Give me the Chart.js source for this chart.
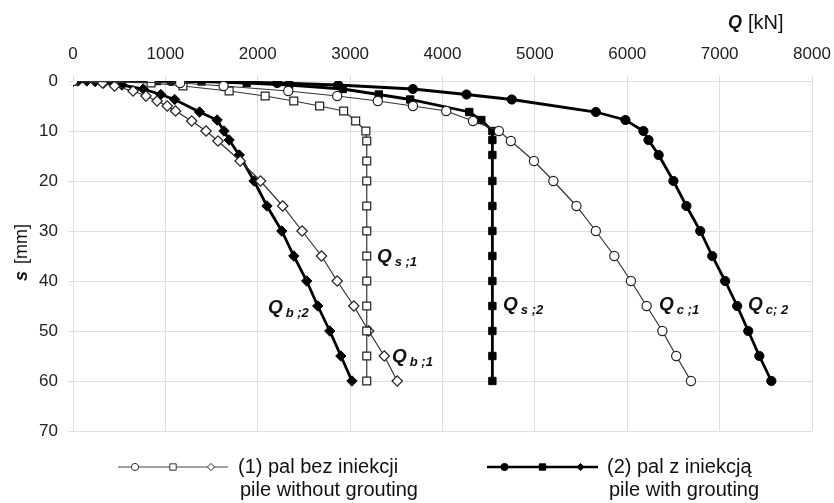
<!DOCTYPE html>
<html>
<head>
<meta charset="utf-8">
<script src="https://cdn.jsdelivr.net/npm/chart.js@4.4.1/dist/chart.umd.min.js"></script>
<style>
  html, body { margin: 0; padding: 0; background: #fff; }
  #wrap { width: 834px; height: 503px; position: relative; }
</style>
</head>
<body>
<div id="wrap"><canvas id="c" width="834" height="503"></canvas></div>
<script>
// ---- data ----
// pile (1) without grouting
const s1  = [0, 0.4, 1.0, 2, 3, 4, 5, 6, 8, 10, 12, 16, 20, 25, 30, 35, 40, 45, 50, 55, 60];
const Qc1 = [0, 1160, 1630, 2330, 2860, 3300, 3680, 4040, 4330, 4610, 4740, 4990, 5200, 5450, 5660, 5860, 6040, 6210, 6380, 6530, 6690];
const Qs1 = [0, 845, 1190, 1690, 2080, 2390, 2670, 2930, 3060, 3170, 3180, 3180, 3180, 3180, 3180, 3180, 3180, 3180, 3180, 3180, 3180];
const Qb1 = [0, 320, 450, 650, 790, 910, 1020, 1110, 1285, 1440, 1570, 1810, 2030, 2270, 2480, 2690, 2860, 3040, 3200, 3370, 3510];
// pile (2) with grouting
const s2  = [0, 0, 0, 0.1, 0.4, 0.8, 1.6, 2.7, 3.7, 6.2, 7.8, 10, 11.8, 14.8, 20, 25, 30, 35, 40, 45, 50, 55, 60];
const Qc2 = [0, 425, 1060, 1630, 2210, 2870, 3680, 4260, 4750, 5660, 5980, 6175, 6230, 6340, 6500, 6640, 6790, 6920, 7060, 7190, 7310, 7430, 7560];
const Qs2 = [0, 370, 910, 1390, 1880, 2340, 2920, 3310, 3650, 4290, 4420, 4540, 4540, 4540, 4540, 4540, 4540, 4540, 4540, 4540, 4540, 4540, 4540];
const Qb2 = [0, 55, 150, 240, 330, 530, 760, 950, 1100, 1370, 1560, 1635, 1690, 1800, 1960, 2100, 2260, 2390, 2530, 2650, 2780, 2900, 3020];

const xTicks = [0, 1000, 2000, 3000, 4000, 5000, 6000, 7000, 8000];
const yTicks = [0, 10, 20, 30, 40, 50, 60, 70];

// curve labels: main letter, subscript, anchor (Q, s)
const curveLabelSub = ['s ;1', 'b ;2', 'b ;1', 's ;2', 'c ;1', 'c; 2'];
const curveLabelQ   = [3290, 2110, 3453, 4655, 6344, 7308];
const curveLabelS   = [35.2, 45.4, 55.2, 44.8, 44.8, 44.8];

const legendTexts = [
  ['(1) pal bez iniekcji', 'pile without grouting'],
  ['(2) pal z iniekcją', 'pile with grouting']
];

// ---- helpers ----
const pts = (q, s) => q.map((v, i) => ({ x: v, y: s[i] }));
const FONT = "'Liberation Sans', Arial, sans-serif";
const GRID = '#dedede';

function openSet(label, q, s, style, r) {
  return {
    label, data: pts(q, s), showLine: true, tension: 0,
    borderColor: '#333', borderWidth: 1.2,
    pointStyle: style, pointRadius: r, pointHoverRadius: r,
    pointBackgroundColor: '#fff', pointBorderColor: '#222', pointBorderWidth: 1.2
  };
}
function filledSet(label, q, s, style, r) {
  return {
    label, data: pts(q, s), showLine: true, tension: 0,
    borderColor: '#000', borderWidth: 2.8,
    pointStyle: style, pointRadius: r, pointHoverRadius: r,
    pointBackgroundColor: '#000', pointBorderColor: '#000', pointBorderWidth: 1
  };
}

const overlay = {
  id: 'overlay',
  afterDraw(chart) {
    const ctx = chart.ctx;
    const xs = chart.scales.x, ys = chart.scales.y;
    ctx.save();
    ctx.fillStyle = '#111';
    ctx.textBaseline = 'middle';

    // curve labels
    for (let i = 0; i < curveLabelSub.length; i++) {
      const px = xs.getPixelForValue(curveLabelQ[i]);
      const py = ys.getPixelForValue(curveLabelS[i]);
      ctx.textAlign = 'left';
      ctx.font = "italic bold 19px " + FONT;
      ctx.fillText('Q', px, py);
      const w = ctx.measureText('Q').width;
      ctx.font = "italic bold 13px " + FONT;
      ctx.fillText(curveLabelSub[i], px + w + 3, py + 5);
    }

    // axis title Q [kN]
    ctx.textAlign = 'left';
    ctx.font = "italic bold 18px " + FONT;
    ctx.fillText('Q', 728, 23);
    ctx.font = "20px " + FONT;
    ctx.fillText('[kN]', 748, 23);

    // axis title s [mm]
    ctx.save();
    ctx.translate(22, 281);
    ctx.rotate(-Math.PI / 2);
    ctx.font = "italic bold 18px " + FONT;
    ctx.fillText('s', 0, 0);
    const ws = ctx.measureText('s').width;
    ctx.font = "18px " + FONT;
    ctx.fillText('[mm]', ws + 7, 0);
    ctx.restore();

    // legend
    const ly = 467;
    const items = [
      { x0: 118, x1: 228, tx: 238, lw: 1.2, col: '#444', fill: '#fff', r: 3.6 },
      { x0: 487, x1: 598, tx: 607, lw: 2.6, col: '#000', fill: '#000', r: 3.6 }
    ];
    const styles = ['circle', 'rect', 'rectRot'];
    items.forEach((it, k) => {
      ctx.strokeStyle = it.col;
      ctx.lineWidth = it.lw;
      ctx.beginPath();
      ctx.moveTo(it.x0, ly);
      ctx.lineTo(it.x1, ly);
      ctx.stroke();
      const mid = (it.x0 + it.x1) / 2;
      [mid - 38, mid, mid + 38].forEach((mx, j) => {
        ctx.fillStyle = it.fill;
        ctx.strokeStyle = k === 0 ? '#333' : '#000';
        ctx.lineWidth = 1;
        Chart.helpers.drawPoint(ctx, { pointStyle: styles[j], radius: styles[j] === 'rect' ? it.r * 1.25 : it.r, borderWidth: 1 }, mx, ly);
      });
      ctx.fillStyle = '#111';
      ctx.textAlign = 'left';
      ctx.font = "20px " + FONT;
      ctx.fillText(legendTexts[k][0], it.tx, ly);
      ctx.fillText(legendTexts[k][1], it.tx + 2, ly + 23);
    });
    ctx.restore();
  }
};

new Chart(document.getElementById('c'), {
  type: 'scatter',
  data: {
    datasets: [
      openSet('Qc;1', Qc1, s1, 'circle', 4.6),
      openSet('Qs;1', Qs1, s1, 'rect', 5.6),
      openSet('Qb;1', Qb1, s1, 'rectRot', 5.2),
      filledSet('Qc;2', Qc2, s2, 'circle', 4.6),
      filledSet('Qs;2', Qs2, s2, 'rect', 5.2),
      filledSet('Qb;2', Qb2, s2, 'rectRot', 5.2)
    ]
  },
  options: {
    responsive: false,
    animation: false,
    devicePixelRatio: 1,
    layout: { padding: { left: 0, top: 0, right: 22, bottom: 72 } },
    plugins: { legend: { display: false }, tooltip: { enabled: false } },
    scales: {
      x: {
        type: 'linear', position: 'top', min: 0, max: 8000,
        afterBuildTicks: (sc) => { sc.ticks = xTicks.map(v => ({ value: v })); },
        afterFit: (sc) => { sc.height = 81; sc.paddingLeft = 0; sc.paddingRight = 0; },
        grid: { color: GRID, tickLength: 5, tickColor: GRID, lineWidth: 1 },
        border: { color: GRID },
        ticks: { color: '#222', padding: 11, font: { family: FONT, size: 17 }, maxRotation: 0,
                 callback: (v) => String(v) }
      },
      y: {
        type: 'linear', reverse: true, min: 0, max: 70,
        afterBuildTicks: (sc) => { sc.ticks = yTicks.map(v => ({ value: v })); },
        afterFit: (sc) => { sc.width = 73; sc.paddingTop = 0; sc.paddingBottom = 0; },
        grid: { color: GRID, tickLength: 5, tickColor: GRID, lineWidth: 1 },
        border: { color: GRID },
        ticks: { color: '#222', padding: 10, font: { family: FONT, size: 17 },
                 callback: (v) => String(v) }
      }
    }
  },
  plugins: [overlay]
});
</script>
</body>
</html>
